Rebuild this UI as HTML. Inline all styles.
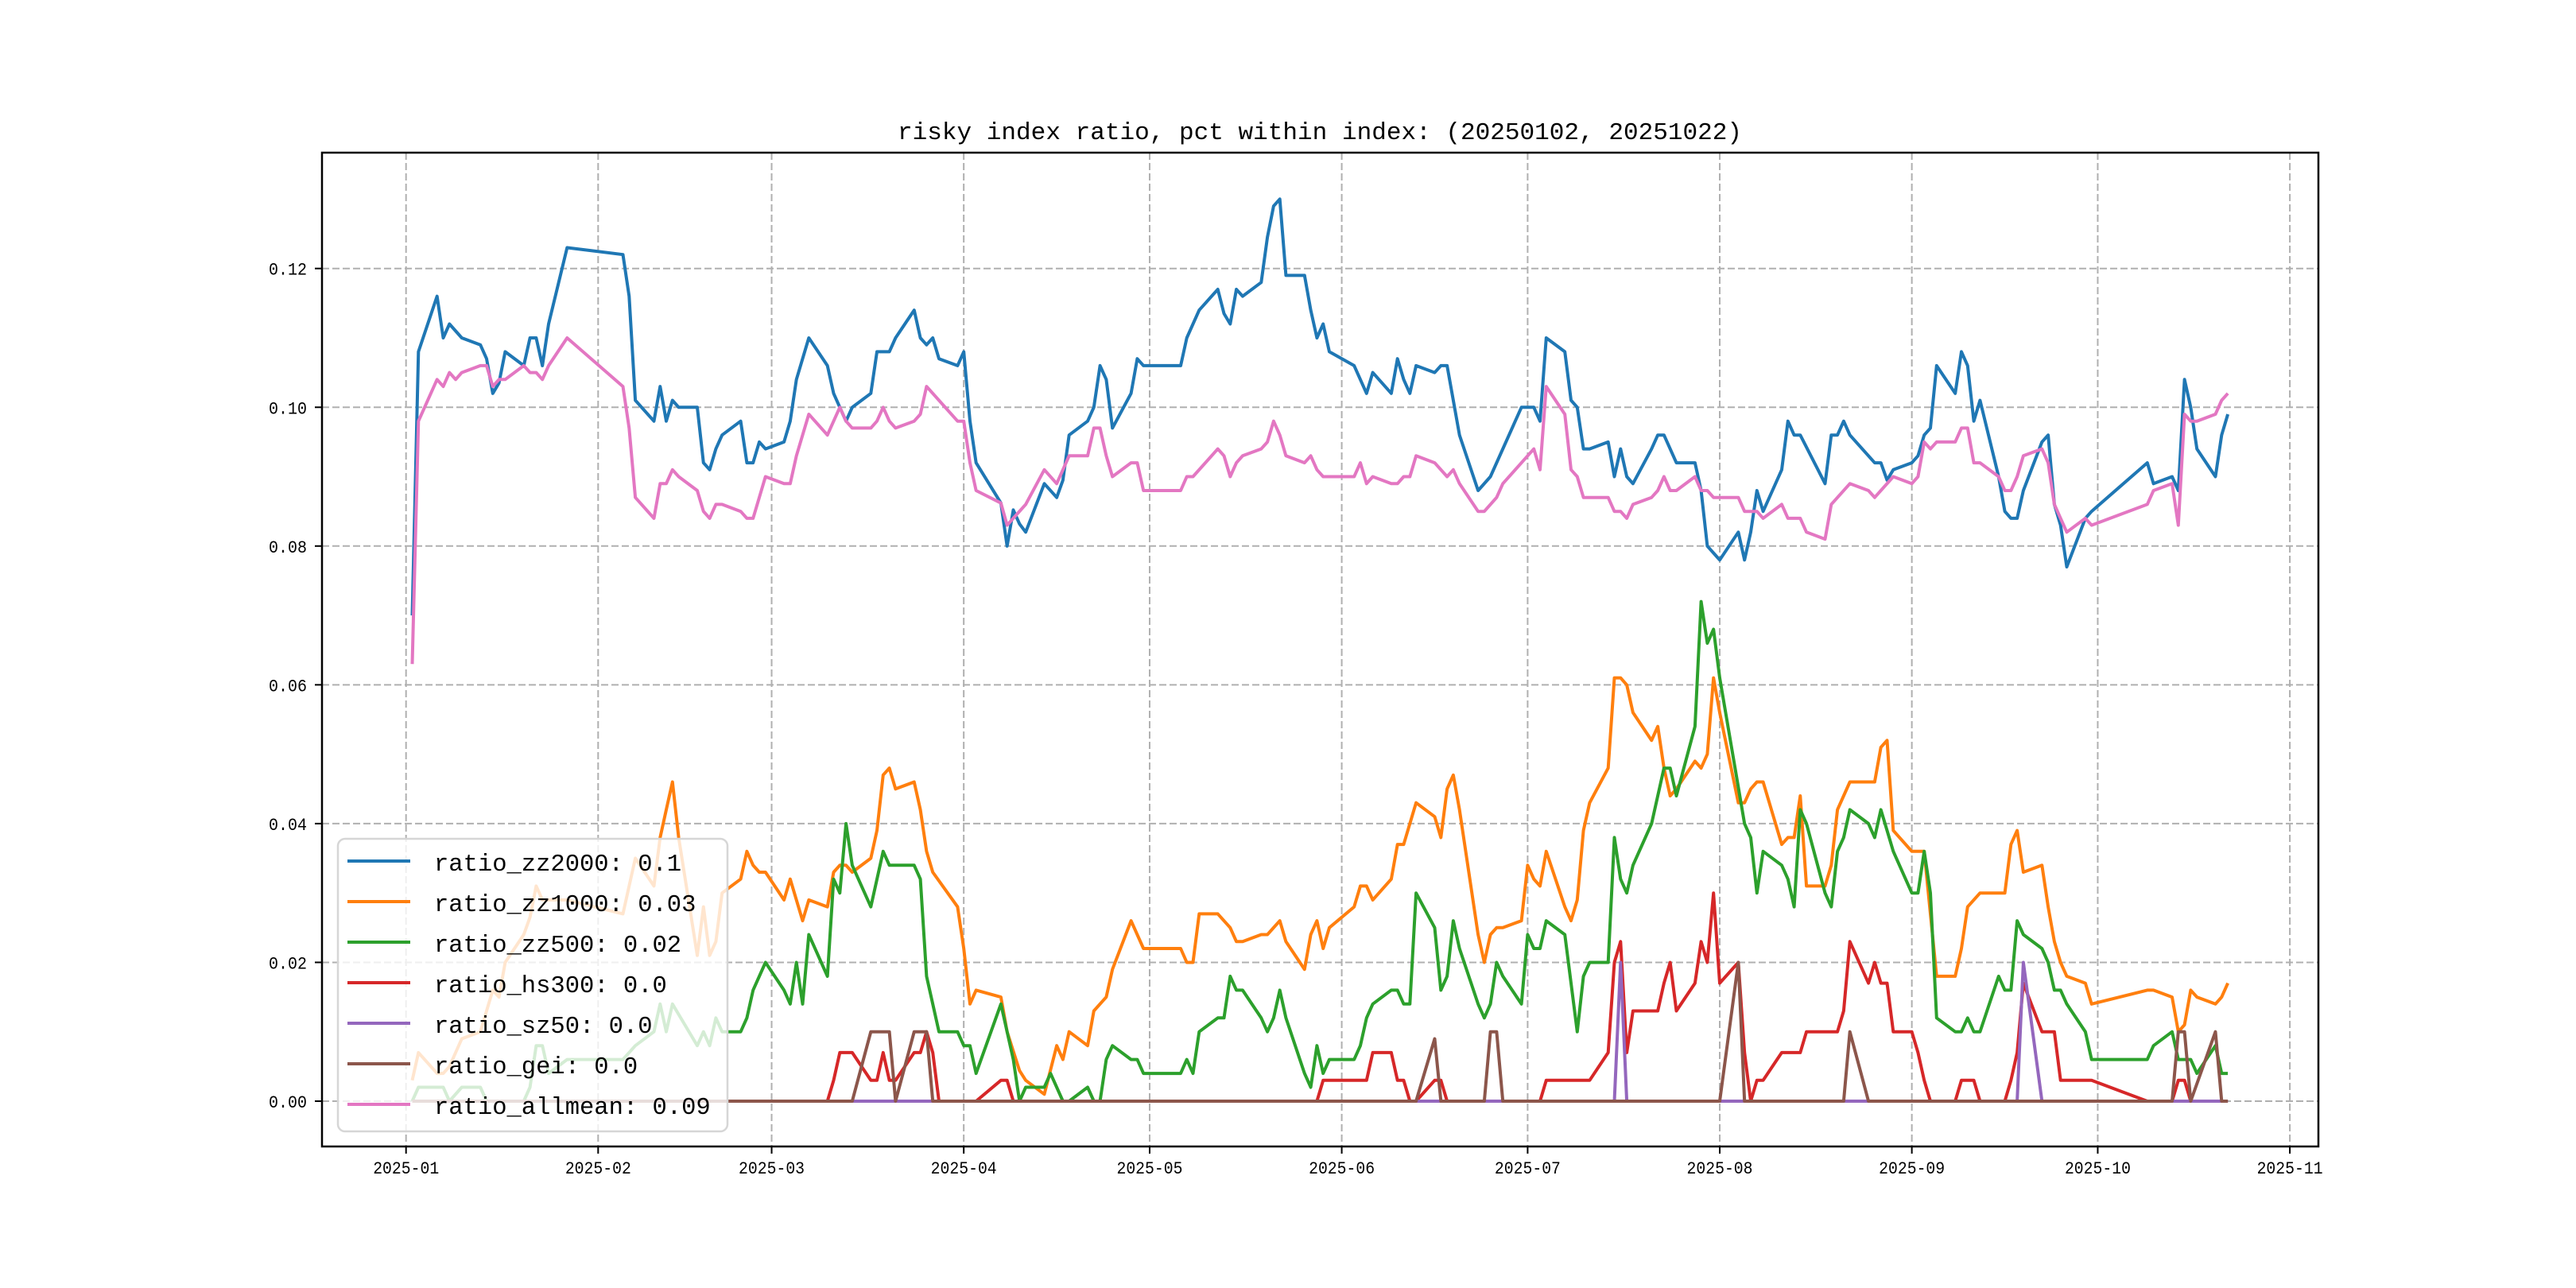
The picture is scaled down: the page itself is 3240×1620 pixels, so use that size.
<!DOCTYPE html>
<html><head><meta charset="utf-8"><style>
html,body{margin:0;padding:0;background:#fff;}
svg{display:block;}
text{font-family:"Liberation Mono","Noto Sans CJK SC",monospace;fill:#000;}
</style></head><body>
<svg id="chart" width="3240" height="1620" viewBox="0 0 3240 1620" xmlns="http://www.w3.org/2000/svg">
<rect x="0" y="0" width="3240" height="1620" fill="#fff"/>
<text x="1660" y="175" text-anchor="middle" font-size="31" textLength="1062" lengthAdjust="spacingAndGlyphs">risky index ratio, pct within index: (20250102, 20251022)</text>
<g id="grid"></g>
<g id="series"></g>
<rect x="405" y="192" width="2511" height="1250" fill="none" stroke="#000" stroke-width="2.5"/>
<g id="axes"></g>
<g id="legend"></g>
</svg>
<script>
// ---- data ----
const xTickLabels = ["2025-01","2025-02","2025-03","2025-04","2025-05","2025-06","2025-07","2025-08","2025-09","2025-10","2025-11"];
const yTickValues = [0.00,0.02,0.04,0.06,0.08,0.10,0.12];
const yTickLabels = ["0.00","0.02","0.04","0.06","0.08","0.10","0.12"];
const seriesNames = ["ratio_zz2000","ratio_zz1000","ratio_zz500","ratio_hs300","ratio_sz50","ratio_gei","ratio_allmean"];
const legendValues = ["0.1","0.03","0.02","0.0","0.0","0.0","0.09"];

const zz2000Dates = ["01-02","01-03","01-06","01-07","01-08","01-10","01-13","01-14","01-15","01-16","01-17","01-20","01-21","01-22","01-23","01-24","01-27","02-05","02-06","02-07","02-10","02-11","02-12","02-13","02-14","02-17","02-18","02-19","02-20","02-21","02-24","02-25","02-26","02-27","02-28","03-03","03-04","03-05","03-07","03-10","03-11","03-12","03-13","03-14","03-17","03-18","03-20","03-21","03-24","03-25","03-26","03-27","03-28","03-31","04-01","04-02","04-03","04-07","04-08","04-09","04-10","04-11","04-14","04-16","04-17","04-18","04-21","04-22","04-23","04-24","04-25","04-28","04-29","04-30","05-06","05-07","05-09","05-12","05-13","05-14","05-15","05-16","05-19","05-20","05-21","05-22","05-23","05-26","05-27","05-28","05-29","05-30","06-03","06-05","06-06","06-09","06-10","06-11","06-12","06-13","06-16","06-17","06-18","06-20","06-23","06-25","06-30","07-02","07-03","07-04","07-07","07-08","07-09","07-10","07-11","07-14","07-15","07-16","07-17","07-18","07-21","07-22","07-23","07-25","07-28","07-29","07-30","08-01","08-04","08-05","08-06","08-07","08-08","08-11","08-12","08-13","08-14","08-18","08-19","08-20","08-21","08-22","08-26","08-27","08-28","08-29","09-01","09-02","09-03","09-04","09-05","09-08","09-09","09-10","09-11","09-12","09-15","09-16","09-17","09-18","09-19","09-22","09-23","09-24","09-25","09-26","09-29","09-30","10-09","10-10","10-13","10-14","10-15","10-16","10-17","10-20","10-21","10-22"];
const zz2000Values = [0.070,0.108,0.116,0.110,0.112,0.110,0.109,0.107,0.102,0.1035,0.108,0.106,0.110,0.110,0.106,0.112,0.123,0.122,0.116,0.101,0.098,0.103,0.098,0.101,0.100,0.100,0.092,0.091,0.094,0.096,0.098,0.092,0.092,0.095,0.094,0.095,0.098,0.104,0.110,0.106,0.102,0.100,0.098,0.100,0.102,0.108,0.108,0.110,0.114,0.110,0.109,0.110,0.107,0.106,0.108,0.098,0.092,0.0862,0.080,0.0852,0.0832,0.082,0.089,0.087,0.0895,0.096,0.098,0.100,0.106,0.104,0.097,0.102,0.107,0.106,0.106,0.110,0.114,0.117,0.1135,0.112,0.117,0.116,0.118,0.1245,0.129,0.130,0.119,0.119,0.114,0.110,0.112,0.108,0.106,0.102,0.105,0.102,0.107,0.104,0.102,0.106,0.105,0.106,0.106,0.096,0.088,0.090,0.100,0.100,0.098,0.110,0.108,0.101,0.100,0.094,0.094,0.095,0.090,0.094,0.090,0.089,0.094,0.096,0.096,0.092,0.092,0.088,0.080,0.078,0.082,0.078,0.082,0.088,0.085,0.091,0.098,0.096,0.096,0.089,0.096,0.096,0.098,0.096,0.092,0.092,0.0895,0.091,0.092,0.093,0.096,0.097,0.106,0.102,0.108,0.106,0.098,0.101,0.090,0.085,0.084,0.084,0.088,0.095,0.096,0.086,0.083,0.077,0.084,0.085,0.092,0.089,0.090,0.088,0.104,0.100,0.094,0.090,0.096,0.099];

const allmeanDates = ["01-02","01-03","01-06","01-07","01-08","01-09","01-10","01-13","01-14","01-15","01-16","01-17","01-20","01-21","01-22","01-23","01-24","01-27","02-05","02-06","02-07","02-10","02-11","02-12","02-13","02-14","02-17","02-18","02-19","02-20","02-21","02-24","02-25","02-26","02-27","02-28","03-03","03-04","03-05","03-07","03-10","03-11","03-12","03-13","03-14","03-17","03-18","03-19","03-20","03-21","03-24","03-25","03-26","03-31","04-01","04-02","04-03","04-07","04-08","04-11","04-14","04-16","04-18","04-21","04-22","04-23","04-24","04-25","04-28","04-29","04-30","05-06","05-07","05-08","05-12","05-13","05-14","05-15","05-16","05-19","05-20","05-21","05-22","05-23","05-26","05-27","05-28","05-29","06-03","06-04","06-05","06-06","06-09","06-10","06-11","06-12","06-13","06-16","06-18","06-19","06-20","06-23","06-24","06-26","06-27","07-02","07-03","07-04","07-07","07-08","07-09","07-10","07-14","07-15","07-16","07-17","07-18","07-21","07-22","07-23","07-24","07-25","07-28","07-29","07-30","07-31","08-04","08-05","08-07","08-08","08-11","08-12","08-13","08-14","08-15","08-18","08-19","08-22","08-25","08-26","08-29","09-01","09-02","09-03","09-04","09-05","09-08","09-09","09-10","09-11","09-12","09-15","09-16","09-17","09-18","09-19","09-22","09-23","09-24","09-26","09-29","09-30","10-09","10-10","10-13","10-14","10-15","10-16","10-17","10-20","10-21","10-22"];
const allmeanValues = [0.063,0.098,0.104,0.103,0.105,0.104,0.105,0.106,0.106,0.103,0.104,0.104,0.106,0.105,0.105,0.104,0.106,0.110,0.103,0.097,0.087,0.084,0.089,0.089,0.091,0.090,0.088,0.085,0.084,0.086,0.086,0.085,0.084,0.084,0.087,0.090,0.089,0.089,0.093,0.099,0.096,0.098,0.100,0.098,0.097,0.097,0.098,0.100,0.098,0.097,0.098,0.099,0.103,0.098,0.098,0.092,0.088,0.0862,0.083,0.086,0.091,0.089,0.093,0.093,0.097,0.097,0.093,0.090,0.092,0.092,0.088,0.088,0.090,0.090,0.094,0.093,0.090,0.092,0.093,0.094,0.095,0.098,0.096,0.093,0.092,0.093,0.091,0.090,0.090,0.092,0.089,0.090,0.089,0.089,0.090,0.090,0.093,0.092,0.090,0.091,0.089,0.085,0.085,0.087,0.089,0.094,0.091,0.103,0.099,0.091,0.090,0.087,0.087,0.085,0.085,0.084,0.086,0.087,0.088,0.090,0.088,0.088,0.090,0.088,0.088,0.087,0.087,0.085,0.085,0.084,0.086,0.084,0.084,0.084,0.082,0.081,0.086,0.089,0.088,0.087,0.090,0.089,0.090,0.095,0.094,0.095,0.095,0.097,0.097,0.092,0.092,0.090,0.088,0.088,0.090,0.093,0.094,0.092,0.086,0.082,0.084,0.083,0.086,0.088,0.089,0.083,0.099,0.098,0.098,0.099,0.101,0.102];

const zz1000Dates = ["01-02","01-03","01-06","01-07","01-08","01-10","01-13","01-14","01-15","01-16","01-17","01-20","01-21","01-22","01-23","01-24","01-27","02-05","02-06","02-07","02-10","02-11","02-12","02-13","02-14","02-17","02-18","02-19","02-20","02-21","02-24","02-25","02-26","02-27","02-28","03-03","03-04","03-06","03-07","03-10","03-11","03-12","03-13","03-14","03-17","03-18","03-19","03-20","03-21","03-24","03-25","03-26","03-27","03-31","04-01","04-02","04-03","04-07","04-08","04-10","04-11","04-14","04-16","04-17","04-18","04-21","04-22","04-24","04-25","04-28","04-30","05-06","05-07","05-08","05-09","05-12","05-14","05-15","05-16","05-19","05-20","05-22","05-23","05-26","05-27","05-28","05-29","05-30","06-03","06-04","06-05","06-06","06-09","06-10","06-11","06-13","06-16","06-17","06-18","06-19","06-20","06-23","06-24","06-25","06-26","06-27","06-30","07-01","07-02","07-03","07-04","07-07","07-08","07-09","07-10","07-11","07-14","07-15","07-16","07-17","07-18","07-21","07-22","07-23","07-24","07-25","07-28","07-29","07-30","07-31","08-01","08-04","08-05","08-06","08-07","08-08","08-11","08-12","08-13","08-14","08-15","08-18","08-19","08-20","08-22","08-26","08-27","08-28","08-29","09-01","09-03","09-05","09-08","09-09","09-10","09-12","09-16","09-17","09-18","09-19","09-22","09-23","09-24","09-25","09-26","09-29","09-30","10-09","10-10","10-13","10-14","10-15","10-16","10-17","10-20","10-21","10-22"];
const zz1000Values = [0.003,0.007,0.004,0.004,0.005,0.009,0.010,0.013,0.016,0.015,0.020,0.024,0.0265,0.031,0.029,0.029,0.029,0.027,0.031,0.035,0.031,0.038,0.042,0.046,0.038,0.021,0.028,0.021,0.023,0.030,0.032,0.036,0.034,0.033,0.033,0.029,0.032,0.026,0.029,0.028,0.033,0.034,0.034,0.033,0.035,0.039,0.047,0.048,0.045,0.046,0.042,0.036,0.033,0.028,0.022,0.014,0.016,0.015,0.010,0.0044,0.003,0.001,0.008,0.006,0.010,0.008,0.013,0.015,0.019,0.026,0.022,0.022,0.020,0.020,0.027,0.027,0.025,0.023,0.023,0.024,0.024,0.026,0.023,0.019,0.024,0.026,0.022,0.025,0.028,0.031,0.031,0.029,0.032,0.037,0.037,0.043,0.041,0.038,0.045,0.047,0.042,0.024,0.020,0.024,0.025,0.025,0.026,0.034,0.032,0.031,0.036,0.028,0.026,0.029,0.039,0.043,0.048,0.061,0.061,0.060,0.056,0.052,0.054,0.048,0.044,0.045,0.049,0.048,0.050,0.061,0.056,0.043,0.043,0.045,0.046,0.046,0.037,0.038,0.038,0.044,0.031,0.031,0.034,0.042,0.046,0.046,0.051,0.052,0.039,0.036,0.036,0.018,0.018,0.022,0.028,0.030,0.030,0.037,0.039,0.033,0.034,0.028,0.023,0.020,0.018,0.017,0.014,0.016,0.016,0.015,0.010,0.011,0.016,0.015,0.014,0.015,0.017];

const zz500Dates = ["01-02","01-03","01-07","01-08","01-10","01-13","01-14","01-20","01-21","01-22","01-23","01-24","01-27","02-05","02-07","02-10","02-11","02-12","02-13","02-17","02-18","02-19","02-20","02-21","02-24","02-25","02-26","02-28","03-03","03-04","03-05","03-06","03-07","03-10","03-11","03-12","03-13","03-14","03-17","03-19","03-20","03-24","03-25","03-26","03-28","03-31","04-01","04-02","04-03","04-07","04-09","04-10","04-11","04-14","04-15","04-17","04-18","04-21","04-22","04-23","04-24","04-25","04-28","04-29","04-30","05-06","05-07","05-08","05-09","05-12","05-13","05-14","05-15","05-16","05-19","05-20","05-21","05-22","05-23","05-26","05-27","05-28","05-29","05-30","06-03","06-04","06-05","06-06","06-09","06-10","06-11","06-12","06-13","06-16","06-17","06-18","06-19","06-20","06-23","06-24","06-25","06-26","06-27","06-30","07-01","07-02","07-03","07-04","07-07","07-09","07-10","07-11","07-14","07-15","07-16","07-17","07-18","07-21","07-23","07-24","07-25","07-28","07-29","07-30","07-31","08-01","08-05","08-06","08-07","08-08","08-11","08-12","08-13","08-14","08-15","08-18","08-19","08-20","08-21","08-22","08-25","08-26","08-27","08-29","09-01","09-02","09-03","09-04","09-05","09-08","09-09","09-10","09-11","09-12","09-15","09-16","09-17","09-18","09-19","09-22","09-23","09-24","09-25","09-26","09-29","09-30","10-09","10-10","10-13","10-14","10-16","10-17","10-20","10-21","10-22"];
const zz500Values = [0,0.002,0.002,0,0.002,0.002,0,0,0.002,0.008,0.008,0.004,0.006,0.006,0.008,0.010,0.014,0.010,0.014,0.008,0.010,0.008,0.012,0.010,0.010,0.012,0.016,0.020,0.016,0.014,0.020,0.014,0.024,0.018,0.032,0.030,0.040,0.034,0.028,0.036,0.034,0.034,0.032,0.018,0.010,0.010,0.008,0.008,0.004,0.014,0.006,0,0.002,0.002,0.004,0,0,0.002,0,0,0.006,0.008,0.006,0.006,0.004,0.004,0.006,0.004,0.010,0.012,0.012,0.018,0.016,0.016,0.012,0.010,0.012,0.016,0.012,0.004,0.002,0.008,0.004,0.006,0.006,0.008,0.012,0.014,0.016,0.016,0.014,0.014,0.030,0.025,0.016,0.018,0.026,0.022,0.014,0.012,0.014,0.020,0.018,0.014,0.024,0.022,0.022,0.026,0.024,0.010,0.018,0.020,0.020,0.038,0.032,0.030,0.034,0.040,0.048,0.048,0.044,0.054,0.072,0.066,0.068,0.061,0.040,0.038,0.030,0.036,0.034,0.032,0.028,0.042,0.040,0.030,0.028,0.036,0.038,0.042,0.040,0.038,0.042,0.036,0.030,0.030,0.036,0.030,0.012,0.010,0.010,0.012,0.010,0.010,0.018,0.016,0.016,0.026,0.024,0.022,0.020,0.016,0.016,0.014,0.010,0.006,0.006,0.008,0.010,0.006,0.006,0.004,0.008,0.004,0.004];

const hs300Dates = ["01-02","03-10","03-11","03-12","03-14","03-17","03-18","03-19","03-20","03-21","03-24","03-25","03-26","03-27","03-28","04-03","04-07","04-08","04-09","05-28","05-29","06-05","06-06","06-09","06-10","06-11","06-12","06-13","06-16","06-17","06-18","07-03","07-04","07-11","07-14","07-15","07-16","07-17","07-18","07-22","07-23","07-24","07-25","07-28","07-29","07-30","07-31","08-01","08-04","08-05","08-06","08-07","08-08","08-11","08-14","08-15","08-20","08-21","08-22","08-25","08-26","08-27","08-28","08-29","09-01","09-02","09-03","09-04","09-08","09-09","09-11","09-12","09-16","09-17","09-18","09-19","09-22","09-24","09-25","09-30","10-09","10-13","10-14","10-15","10-16","10-22"];
const hs300Values = [0,0,0.003,0.007,0.007,0.003,0.003,0.007,0.003,0.003,0.007,0.007,0.010,0.007,0,0,0.003,0.003,0,0,0.003,0.003,0.007,0.007,0.003,0.003,0,0,0.003,0.003,0,0,0.003,0.003,0.007,0.020,0.023,0.007,0.013,0.013,0.017,0.020,0.013,0.017,0.023,0.020,0.030,0.017,0.020,0.007,0,0.003,0.003,0.007,0.007,0.010,0.010,0.013,0.023,0.017,0.020,0.017,0.017,0.010,0.010,0.007,0.003,0,0,0.003,0.003,0,0,0.003,0.007,0.017,0.010,0.010,0.003,0.003,0,0,0.003,0.003,0,0];

const sz50Dates = ["01-02","07-15","07-16","07-17","09-18","09-19","09-22","10-22"];
const sz50Values = [0,0,0.020,0,0,0.020,0,0];

const geiDates = ["01-02","03-14","03-17","03-20","03-21","03-24","03-26","03-27","06-13","06-16","06-17","06-24","06-25","06-26","06-27","08-01","08-04","08-05","08-21","08-22","08-25","10-13","10-14","10-15","10-16","10-20","10-21","10-22"];
const geiValues = [0,0,0.010,0.010,0,0.010,0.010,0,0,0.009,0,0,0.010,0.010,0,0,0.020,0,0,0.010,0,0,0.010,0.010,0,0.010,0,0];

const seriesColors = ["#1f77b4","#ff7f0e","#2ca02c","#d62728","#9467bd","#8c564b","#e377c2"];

// ---- axes functions ----
const NS = "http://www.w3.org/2000/svg";
const X0 = 510.7, PX_PER_DAY = 7.794;
const Y0 = 1385, PX_PER_UNIT = 1047.3 / 0.12;
const PLOT_L = 405, PLOT_R = 2916, PLOT_T = 192, PLOT_B = 1442;
function dayOf(md) { const [m, d] = md.split("-").map(Number); return (Date.UTC(2025, m - 1, d) - Date.UTC(2025, 0, 1)) / 86400000; }
function xScale(md) { return X0 + dayOf(md) * PX_PER_DAY; }
function yScale(v) { return Y0 - v * PX_PER_UNIT; }
function mk(tag, attrs) { const e = document.createElementNS(NS, tag); for (const k in attrs) e.setAttribute(k, attrs[k]); return e; }

const grid = document.getElementById("grid");
const axes = document.getElementById("axes");
xTickLabels.forEach((lab) => {
  const x = xScale(lab.slice(5) + "-01");
  const g = mk("line", { x1: x, x2: x, y1: PLOT_T, y2: PLOT_B, stroke: "#b0b0b0", "stroke-width": 2, "stroke-dasharray": "9,4" });
  
  
  grid.appendChild(g);
  const t = mk("line", { x1: x, x2: x, y1: PLOT_B, y2: PLOT_B + 9, stroke: "#000", "stroke-width": 2 });
  
  
  axes.appendChild(t);
  const tx = mk("text", { x: x, y: 1476, "text-anchor": "middle", "font-size": 22, textLength: 83, lengthAdjust: "spacingAndGlyphs" });
  tx.textContent = lab;
  
  
  axes.appendChild(tx);
});
yTickValues.forEach((v, i) => {
  const y = yScale(v);
  const g = mk("line", { x1: PLOT_L, x2: PLOT_R, y1: y, y2: y, stroke: "#b0b0b0", "stroke-width": 2, "stroke-dasharray": "9,4" });
  
  
  grid.appendChild(g);
  const t = mk("line", { x1: PLOT_L - 9, x2: PLOT_L, y1: y, y2: y, stroke: "#000", "stroke-width": 2 });
  
  
  axes.appendChild(t);
  const tx = mk("text", { x: 386, y: y + 8, "text-anchor": "end", "font-size": 22, textLength: 48, lengthAdjust: "spacingAndGlyphs" });
  tx.textContent = yTickLabels[i];
  
  
  axes.appendChild(tx);
});

// ---- series ----
const seriesDates = [zz2000Dates, zz1000Dates, zz500Dates, hs300Dates, sz50Dates, geiDates, allmeanDates];
const seriesValues = [zz2000Values, zz1000Values, zz500Values, hs300Values, sz50Values, geiValues, allmeanValues];
const sg = document.getElementById("series");
seriesNames.forEach((name, i) => {
  const pts = seriesDates[i].map((d, j) => xScale(d).toFixed(1) + "," + yScale(seriesValues[i][j]).toFixed(1)).join(" ");
  const pl = mk("polyline", { points: pts, fill: "none", stroke: seriesColors[i], "stroke-width": 4, "stroke-linejoin": "round" });
  
  
  sg.appendChild(pl);
});

// ---- legend ----
const lg = document.getElementById("legend");
const box = mk("rect", { x: 425, y: 1055, width: 490, height: 368, rx: 9, fill: "rgba(255,255,255,0.8)", stroke: "#d6d6d6", "stroke-width": 2.5 });


lg.appendChild(box);
seriesNames.forEach((name, i) => {
  const y = 1083 + i * 51;
  const ln = mk("line", { x1: 437, x2: 516, y1: y, y2: y, stroke: seriesColors[i], "stroke-width": 4 });
  
  
  lg.appendChild(ln);
  const label = name + ": " + legendValues[i];
  const tx = mk("text", { x: 546, y: y + 12, "font-size": 30.5, textLength: (label.length * 18.3).toFixed(1), lengthAdjust: "spacingAndGlyphs" });
  tx.textContent = label;
  
  
  lg.appendChild(tx);
});
</script>
</body></html>
